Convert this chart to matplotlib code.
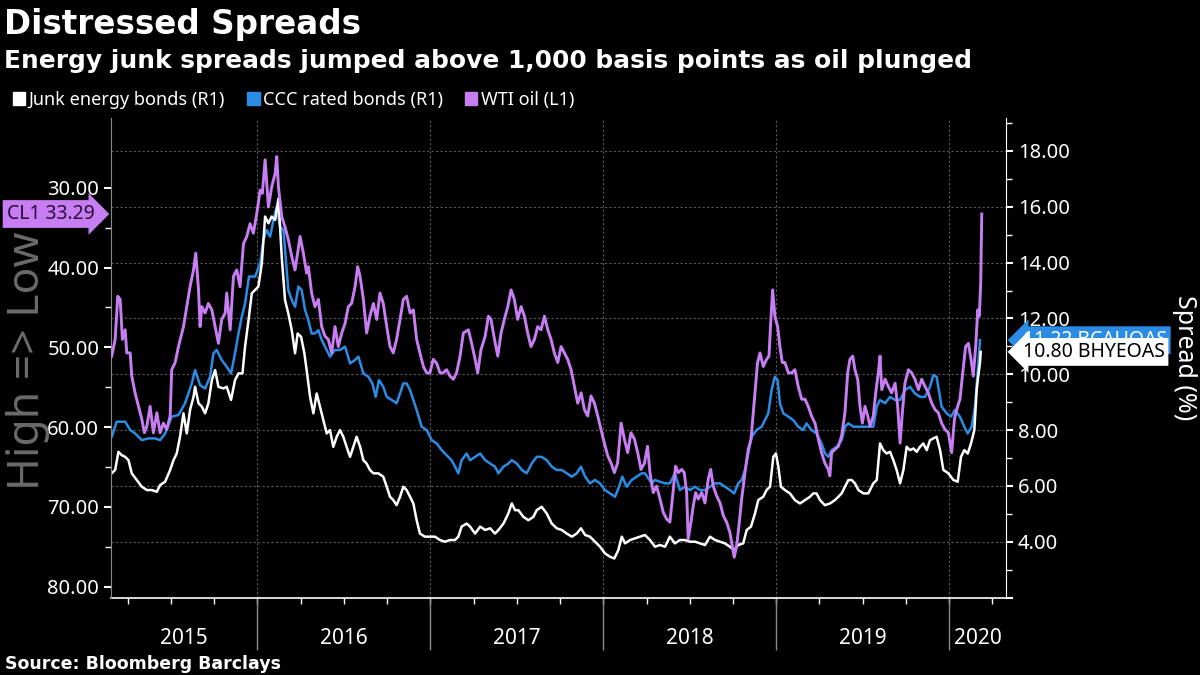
import numpy as np
from matplotlib import pyplot as plt
from matplotlib.patches import Patch

plt.rcParams['font.family'] = ['Noto Sans', 'DejaVu Sans']

WHITE = "#ffffff"
BLUE = "#2b8ce6"
PURPLE = "#c77ef2"
GRID = "#5a5a5a"

# WTI oil, $ per barrel (left axis, inverted); time in decimal years
wti_t = [
    2015.158, 2015.178, 2015.193, 2015.207, 2015.220, 2015.236, 2015.245, 2015.265, 2015.274, 2015.293,
    2015.313, 2015.332, 2015.347, 2015.361, 2015.380, 2015.399, 2015.419, 2015.438, 2015.457, 2015.476,
    2015.496, 2015.505, 2015.525, 2015.544, 2015.573, 2015.592, 2015.611, 2015.631, 2015.644, 2015.660,
    2015.669, 2015.679, 2015.698, 2015.717, 2015.737, 2015.756, 2015.775, 2015.794, 2015.814, 2015.823,
    2015.843, 2015.862, 2015.881, 2015.900, 2015.920, 2015.939, 2015.958, 2015.977, 2015.997, 2016.016,
    2016.029, 2016.045, 2016.064, 2016.083, 2016.103, 2016.112, 2016.122, 2016.141,
    2016.160, 2016.179, 2016.199, 2016.218, 2016.233, 2016.247, 2016.266, 2016.285, 2016.295, 2016.314,
    2016.333, 2016.353, 2016.372, 2016.391, 2016.410, 2016.430, 2016.449, 2016.468, 2016.488, 2016.507,
    2016.526, 2016.545, 2016.565, 2016.580, 2016.594, 2016.613, 2016.632, 2016.651, 2016.671, 2016.690,
    2016.709, 2016.728, 2016.748, 2016.767, 2016.786, 2016.805, 2016.825, 2016.844, 2016.863, 2016.883,
    2016.902, 2016.921, 2016.940, 2016.960, 2016.979, 2016.998, 2017.017, 2017.037, 2017.056, 2017.075,
    2017.094, 2017.114, 2017.133, 2017.152, 2017.172, 2017.191,
    2017.220, 2017.239, 2017.259, 2017.274, 2017.293, 2017.317, 2017.336, 2017.351, 2017.371, 2017.390,
    2017.409, 2017.428, 2017.448, 2017.467, 2017.486, 2017.505, 2017.525, 2017.544, 2017.563, 2017.582,
    2017.602, 2017.621, 2017.640, 2017.660, 2017.679, 2017.698, 2017.717, 2017.737, 2017.756, 2017.775,
    2017.794, 2017.814, 2017.833, 2017.852, 2017.872, 2017.891, 2017.910, 2017.929, 2017.949, 2017.968,
    2017.987, 2018.006, 2018.026, 2018.045, 2018.064, 2018.083, 2018.103, 2018.122, 2018.141, 2018.160,
    2018.180, 2018.199, 2018.218, 2018.238,
    2018.256, 2018.270, 2018.289, 2018.308, 2018.328, 2018.347, 2018.366, 2018.385, 2018.405, 2018.418,
    2018.434, 2018.453, 2018.468, 2018.482, 2018.491, 2018.507, 2018.520, 2018.534, 2018.549, 2018.569,
    2018.588, 2018.607, 2018.621, 2018.636, 2018.655, 2018.675, 2018.694, 2018.713, 2018.732, 2018.746,
    2018.757, 2018.771, 2018.784, 2018.800, 2018.819, 2018.838, 2018.854, 2018.867, 2018.877, 2018.892,
    2018.906, 2018.925, 2018.944, 2018.958, 2018.969, 2018.979, 2018.992, 2019.008, 2019.021, 2019.035,
    2019.050, 2019.070, 2019.089, 2019.108, 2019.127, 2019.147, 2019.166, 2019.185, 2019.204, 2019.224,
    2019.243, 2019.262, 2019.281,
    2019.301, 2019.310, 2019.320, 2019.339, 2019.359, 2019.378, 2019.397, 2019.413, 2019.426, 2019.442,
    2019.455, 2019.471, 2019.484, 2019.498, 2019.513, 2019.529, 2019.542, 2019.561, 2019.575, 2019.590,
    2019.600, 2019.610, 2019.629, 2019.648, 2019.667, 2019.687, 2019.702, 2019.716, 2019.729, 2019.744,
    2019.764, 2019.783, 2019.802, 2019.822, 2019.841, 2019.860, 2019.879, 2019.899, 2019.918, 2019.937,
    2019.956, 2019.976, 2019.995, 2020.014, 2020.030, 2020.043, 2020.062, 2020.082, 2020.095, 2020.111,
    2020.126, 2020.139, 2020.153, 2020.165, 2020.174, 2020.182, 2020.188,
]
wti = [
    51.1, 49.0, 43.6, 44.0, 49.0, 47.8, 50.7, 50.7, 53.6, 55.7,
    57.4, 59.0, 60.7, 59.9, 57.4, 60.7, 58.2, 60.7, 59.5, 60.3,
    58.6, 52.8, 51.9, 49.9, 47.4, 44.9, 42.4, 40.3, 38.2, 42.8,
    47.4, 44.9, 45.7, 44.5, 45.3, 47.4, 49.5, 46.5, 45.7, 43.2,
    47.8, 41.1, 40.3, 42.4, 37.0, 36.1, 34.5, 35.7, 33.2, 30.3,
    30.7, 26.5, 32.4, 29.9, 28.2, 26.1, 29.9, 33.6,
    34.9, 36.5, 38.6, 40.3, 38.2, 36.1, 38.2, 40.7, 39.9, 43.2,
    44.9, 44.0, 47.4, 48.6, 49.0, 50.7, 47.4, 49.9, 48.2, 47.0,
    44.9, 44.5, 42.4, 39.9, 41.1, 44.0, 48.2, 46.1, 44.5, 46.5,
    43.2, 44.5, 47.4, 49.9, 50.7, 49.0, 46.5, 44.0, 43.6, 45.7,
    45.3, 49.0, 50.7, 52.4, 53.2, 53.2, 51.5, 52.0, 53.2, 53.2,
    52.8, 53.6, 54.0, 53.2, 51.1, 48.2,
    47.8, 49.5, 51.5, 53.2, 50.3, 48.6, 46.1, 46.5, 49.0, 51.1,
    48.2, 46.5, 44.9, 42.8, 44.0, 46.5, 44.9, 46.1, 48.2, 49.9,
    49.0, 47.4, 47.8, 46.1, 47.8, 49.0, 50.7, 51.9, 49.9, 50.7,
    51.5, 52.8, 54.9, 57.0, 55.7, 57.8, 58.6, 56.1, 57.0, 58.6,
    60.3, 62.0, 63.6, 64.5, 65.7, 64.5, 59.5, 61.5, 63.2, 60.7,
    61.5, 63.2, 65.3, 64.5,
    62.4, 65.7, 68.2, 67.4, 69.0, 70.7, 71.5, 71.9, 67.8, 64.9,
    65.7, 65.3, 65.7, 68.2, 74.0, 71.9, 69.9, 68.2, 69.0, 68.2,
    69.5, 66.5, 65.3, 67.4, 68.6, 69.5, 71.1, 71.9, 73.2, 74.9,
    76.3, 74.9, 72.4, 69.0, 65.7, 62.8, 61.5, 58.2, 55.7, 51.9,
    50.7, 52.4, 51.5, 51.1, 46.5, 42.8, 46.1, 47.4, 49.9, 51.9,
    51.9, 53.2, 53.2, 52.8, 54.9, 56.5, 56.5, 57.4, 58.6, 59.5,
    61.5, 63.2, 64.5,
    65.3, 66.1, 63.2, 62.8, 62.4, 61.1, 58.2, 53.2, 51.5, 51.1,
    52.8, 54.0, 57.4, 59.5, 57.4, 58.6, 59.9, 58.6, 55.7, 53.2,
    51.1, 55.3, 54.0, 54.9, 55.7, 54.5, 57.4, 62.0, 58.2, 54.5,
    52.8, 53.2, 54.0, 55.3, 54.0, 54.9, 55.7, 57.0, 57.8, 58.2,
    59.5, 60.3, 60.7, 63.2, 59.0, 57.8, 56.5, 52.4, 49.9, 49.5,
    51.5, 53.6, 49.9, 45.3, 46.1, 41.9, 33.29,
]

# CCC rated bonds, option-adjusted spread in % (right axis)
ccc_t = [
    2015.158, 2015.187, 2015.236, 2015.265, 2015.293, 2015.332, 2015.370, 2015.409, 2015.438, 2015.467,
    2015.505, 2015.544, 2015.582, 2015.621, 2015.640, 2015.669, 2015.698, 2015.727, 2015.746, 2015.765,
    2015.794, 2015.823, 2015.848, 2015.871, 2015.891, 2015.910, 2015.929, 2015.952, 2015.987, 2016.016,
    2016.035, 2016.054, 2016.074, 2016.093, 2016.112, 2016.131, 2016.151,
    2016.179, 2016.199, 2016.218, 2016.237, 2016.256, 2016.276, 2016.295, 2016.314, 2016.333, 2016.353,
    2016.372, 2016.391, 2016.420, 2016.449, 2016.478, 2016.507, 2016.536, 2016.565, 2016.584, 2016.613,
    2016.642, 2016.665, 2016.684, 2016.703, 2016.728, 2016.748, 2016.777, 2016.805, 2016.825, 2016.844,
    2016.863, 2016.883, 2016.902, 2016.921, 2016.950, 2016.979, 2017.008, 2017.037, 2017.066, 2017.094,
    2017.123, 2017.143, 2017.162, 2017.181, 2017.210,
    2017.230, 2017.259, 2017.288, 2017.317, 2017.346, 2017.374, 2017.394, 2017.423, 2017.451, 2017.471,
    2017.500, 2017.529, 2017.557, 2017.586, 2017.615, 2017.644, 2017.673, 2017.702, 2017.731, 2017.760,
    2017.789, 2017.818, 2017.846, 2017.871, 2017.895, 2017.923, 2017.952, 2017.981, 2018.010, 2018.039,
    2018.068, 2018.091, 2018.110, 2018.135, 2018.164, 2018.193, 2018.222,
    2018.241, 2018.280, 2018.299, 2018.328, 2018.357, 2018.385, 2018.414, 2018.443, 2018.472, 2018.501,
    2018.530, 2018.559, 2018.588, 2018.617, 2018.646, 2018.675, 2018.703, 2018.732, 2018.757, 2018.780,
    2018.800, 2018.819, 2018.838, 2018.858, 2018.886, 2018.915, 2018.935, 2018.954, 2018.973, 2018.992,
    2019.008, 2019.021, 2019.041, 2019.070, 2019.098, 2019.127, 2019.156, 2019.175, 2019.204, 2019.233,
    2019.262,
    2019.282, 2019.301, 2019.320, 2019.349, 2019.378, 2019.397, 2019.417, 2019.446, 2019.475, 2019.504,
    2019.532, 2019.561, 2019.581, 2019.600, 2019.629, 2019.658, 2019.687, 2019.716, 2019.744, 2019.773,
    2019.802, 2019.831, 2019.860, 2019.889, 2019.908, 2019.927, 2019.956, 2019.985, 2020.010, 2020.033,
    2020.062, 2020.087, 2020.106, 2020.130, 2020.149, 2020.165, 2020.178,
]
ccc = [
    7.76, 8.30, 8.30, 8.00, 7.88, 7.64, 7.70, 7.70, 7.64, 7.88,
    8.48, 8.54, 8.96, 9.67, 10.15, 9.61, 9.49, 9.91, 10.75, 10.87,
    10.51, 10.27, 10.03, 10.75, 11.46, 12.06, 12.54, 13.50, 13.50, 13.97,
    14.81, 15.17, 14.93, 15.53, 16.00, 15.29, 15.17,
    13.02, 12.66, 12.42, 13.14, 13.02, 12.30, 11.94, 11.46, 11.46, 11.58,
    11.23, 10.99, 10.63, 10.87, 10.87, 10.99, 10.39, 10.51, 10.63, 10.03,
    9.91, 9.67, 9.19, 9.79, 9.55, 9.19, 9.08, 8.96, 9.31, 9.67,
    9.67, 9.43, 9.08, 8.72, 8.12, 8.00, 7.64, 7.52, 7.28, 7.10,
    6.92, 6.69, 6.45, 6.92, 7.16,
    6.92, 7.04, 7.16, 6.92, 6.80, 6.69, 6.45, 6.69, 6.80, 6.92,
    6.80, 6.57, 6.45, 6.80, 7.04, 7.04, 6.92, 6.69, 6.57, 6.57,
    6.45, 6.33, 6.45, 6.69, 6.33, 6.09, 6.21, 6.09, 5.85, 5.73,
    5.61, 5.97, 6.33, 5.97, 6.21, 6.33, 6.45,
    6.45, 6.09, 6.21, 6.15, 6.09, 6.09, 6.45, 5.85, 5.97, 5.85,
    5.97, 5.85, 5.85, 5.97, 6.09, 6.09, 5.97, 5.85, 5.73, 6.09,
    6.21, 6.57, 7.16, 7.76, 8.00, 8.12, 8.36, 8.60, 9.43, 9.91,
    9.79, 8.96, 8.60, 8.48, 8.36, 8.12, 8.00, 8.24, 8.00, 7.88,
    7.52,
    7.16, 7.04, 7.28, 7.40, 7.64, 8.12, 8.24, 8.12, 8.12, 8.12,
    8.12, 8.12, 8.84, 9.08, 8.96, 9.19, 9.08, 9.08, 9.43, 9.55,
    9.31, 9.19, 9.19, 9.55, 9.97, 9.91, 8.84, 8.60, 8.48, 8.72,
    8.48, 8.12, 7.88, 8.12, 8.84, 10.15, 11.22,
]

# Junk energy bonds, option-adjusted spread in % (right axis)
junk_t = [
    2015.158, 2015.178, 2015.197, 2015.216, 2015.236, 2015.255, 2015.274, 2015.303, 2015.332, 2015.361,
    2015.390, 2015.419, 2015.438, 2015.467, 2015.496, 2015.515, 2015.534, 2015.553, 2015.573, 2015.592,
    2015.611, 2015.631, 2015.640, 2015.660, 2015.679, 2015.698, 2015.717, 2015.737, 2015.756, 2015.775,
    2015.804, 2015.823, 2015.848, 2015.871, 2015.891, 2015.914, 2015.929, 2015.949, 2015.968, 2015.987,
    2016.006, 2016.026, 2016.045, 2016.064, 2016.083, 2016.103, 2016.122, 2016.141, 2016.160,
    2016.179, 2016.199, 2016.218, 2016.233, 2016.253, 2016.272, 2016.285, 2016.305, 2016.324, 2016.343,
    2016.362, 2016.382, 2016.401, 2016.420, 2016.439, 2016.459, 2016.478, 2016.497, 2016.516, 2016.536,
    2016.555, 2016.574, 2016.594, 2016.613, 2016.632, 2016.651, 2016.671, 2016.699, 2016.728, 2016.748,
    2016.767, 2016.786, 2016.805, 2016.825, 2016.844, 2016.863, 2016.883, 2016.902, 2016.921, 2016.940,
    2016.969, 2016.998, 2017.027, 2017.056, 2017.085, 2017.114, 2017.143, 2017.162, 2017.181, 2017.210,
    2017.230, 2017.259, 2017.288, 2017.317, 2017.346, 2017.374, 2017.394, 2017.423, 2017.451, 2017.471,
    2017.490, 2017.509, 2017.538, 2017.567, 2017.596, 2017.615, 2017.644, 2017.673, 2017.702, 2017.731,
    2017.760, 2017.789, 2017.818, 2017.846, 2017.871, 2017.895, 2017.923, 2017.952, 2017.981, 2018.010,
    2018.039, 2018.064, 2018.087, 2018.107, 2018.126, 2018.155, 2018.184, 2018.213, 2018.241,
    2018.270, 2018.299, 2018.328, 2018.357, 2018.385, 2018.414, 2018.443, 2018.472, 2018.501, 2018.530,
    2018.559, 2018.588, 2018.617, 2018.646, 2018.675, 2018.703, 2018.732, 2018.757, 2018.780, 2018.809,
    2018.829, 2018.854, 2018.877, 2018.896, 2018.925, 2018.944, 2018.964, 2018.983, 2018.998, 2019.012,
    2019.027, 2019.050, 2019.079, 2019.108, 2019.137, 2019.166, 2019.195, 2019.214, 2019.233, 2019.253,
    2019.281,
    2019.311, 2019.339, 2019.359, 2019.378, 2019.397, 2019.417, 2019.436, 2019.455, 2019.475, 2019.504,
    2019.532, 2019.561, 2019.581, 2019.600, 2019.619, 2019.638, 2019.658, 2019.677, 2019.696, 2019.716,
    2019.735, 2019.754, 2019.773, 2019.793, 2019.812, 2019.831, 2019.850, 2019.870, 2019.889, 2019.908,
    2019.927, 2019.947, 2019.966, 2019.995, 2020.024, 2020.049, 2020.068, 2020.087, 2020.107, 2020.126,
    2020.145, 2020.159, 2020.168, 2020.178, 2020.182,
]
junk = [
    6.45, 6.57, 7.22, 7.10, 7.04, 6.92, 6.45, 6.21, 5.97, 5.85,
    5.85, 5.79, 6.03, 6.15, 6.57, 6.92, 7.16, 7.76, 8.60, 7.88,
    8.72, 9.19, 9.55, 8.96, 8.84, 8.60, 8.96, 9.79, 10.15, 9.55,
    9.49, 9.55, 9.08, 9.79, 10.03, 10.03, 10.99, 11.94, 12.90, 13.02,
    13.14, 13.97, 15.65, 15.41, 15.65, 15.53, 16.30, 14.21, 12.66,
    12.18, 11.58, 10.75, 11.46, 11.34, 10.75, 10.15, 9.19, 8.60, 9.31,
    8.84, 8.36, 7.88, 8.00, 7.40, 7.76, 8.00, 7.76, 7.40, 7.04,
    7.40, 7.76, 7.40, 6.92, 6.80, 6.57, 6.45, 6.45, 6.33, 5.97,
    5.61, 5.49, 5.31, 5.61, 5.97, 5.85, 5.61, 5.37, 4.77, 4.29,
    4.18, 4.18, 4.18, 4.06, 4.00, 4.06, 4.06, 4.18, 4.54, 4.65,
    4.54, 4.29, 4.54, 4.42, 4.48, 4.29, 4.42, 4.65, 5.01, 5.37,
    5.13, 5.13, 4.89, 4.77, 4.89, 5.13, 5.25, 5.01, 4.65, 4.48,
    4.42, 4.29, 4.18, 4.29, 4.48, 4.24, 4.18, 4.00, 3.82, 3.58,
    3.46, 3.40, 3.70, 4.18, 3.94, 4.06, 4.12, 4.18, 4.24,
    4.06, 3.82, 3.88, 3.82, 4.18, 3.94, 4.06, 4.06, 4.00, 4.00,
    3.94, 3.88, 4.18, 4.06, 4.00, 3.94, 3.82, 3.70, 3.88, 3.94,
    4.42, 4.54, 5.01, 5.49, 5.61, 5.85, 5.97, 7.04, 7.16, 6.69,
    5.97, 5.85, 5.73, 5.49, 5.37, 5.49, 5.61, 5.73, 5.73, 5.49,
    5.31,
    5.37, 5.49, 5.61, 5.73, 5.97, 6.21, 6.21, 6.09, 5.85, 5.73,
    5.73, 6.09, 6.21, 7.52, 7.28, 7.16, 7.22, 6.92, 6.57, 6.09,
    6.57, 7.40, 7.28, 7.34, 7.22, 7.40, 7.52, 7.28, 7.64, 7.70,
    7.76, 7.28, 6.57, 6.45, 6.21, 6.15, 7.04, 7.28, 7.16, 7.52,
    8.00, 9.46, 9.94, 10.42, 10.80,
]

years = [2015, 2016, 2017, 2018, 2019, 2020]
x_start, x_end = 2015.154, 2020.328
BOLD = ['DejaVu Sans']

fig = plt.figure(figsize=(12, 6.75), dpi=100, facecolor="black")
ax = fig.add_axes([0.0925, 0.1148, 0.7458, 0.7099], facecolor="black")
ax_oil = ax.twinx()

# spreads on the right axis
ax.plot(junk_t, junk, color=WHITE, lw=1.8, zorder=3)
ax.plot(ccc_t, ccc, color=BLUE, lw=1.8, zorder=2)
ax.set_ylim(2.0, 19.17)
ax.set_xlim(x_start, x_end)
ax.yaxis.tick_right()
ax.set_yticks(np.arange(2, 19, 2))
ax.set_yticklabels([""] + [f"{v:.2f}" for v in np.arange(4, 19, 2)])
ax.set_yticks(np.arange(3, 20, 2), minor=True)
ax.grid(axis="y", which="major", color=GRID, ls=(0, (2, 2)), lw=0.8)
ax.yaxis.set_label_position("right")
ax.set_ylabel("Spread (%)", color="white", fontsize=18, rotation=270, va="center")
ax.yaxis.set_label_coords(1.2, 0.5)

# oil on the left axis, high => low
ax_oil.plot(wti_t, wti, color=PURPLE, lw=2.1, zorder=4)
ax_oil.set_ylim(81.35, 21.3)
ax_oil.yaxis.tick_left()
ax_oil.yaxis.set_label_position("left")
ax_oil.set_yticks(np.arange(30, 81, 10))
ax_oil.set_yticklabels([f"{v:.2f}" for v in np.arange(30, 81, 10)])
ax_oil.set_yticks(np.arange(35, 80, 10), minor=True)
ax_oil.set_ylabel("High => Low", color="#6b6b6b", fontsize=32, va="center")
ax_oil.yaxis.set_label_coords(-0.093, 0.495)

for a in (ax, ax_oil):
    a.tick_params(axis="y", which="major", colors="white", labelsize=14.5, length=5, width=1.5)
    a.tick_params(axis="y", which="minor", colors="white", length=4, width=1)
    for s in a.spines.values():
        s.set_visible(False)

ax.spines["right"].set_visible(True)
ax.spines["right"].set_color("white")
ax.spines["bottom"].set_visible(True)
ax.spines["bottom"].set_color("white")
ax.spines["bottom"].set_linewidth(1.2)
ax_oil.spines["left"].set_visible(True)
ax_oil.spines["left"].set_color("#8a8a8a")

# x axis: quarter ticks, year separators, centred year labels
ax.set_xticks([])
ax.set_xticks(np.arange(2015.25, x_end, 0.25), minor=True)
ax.tick_params(axis="x", which="minor", colors="white", length=4, width=1)
for y in years[1:]:
    ax.axvline(y, color=GRID, ls=(0, (2, 2)), lw=0.8, zorder=1)
ax.vlines(years[1:], -0.11, 0, transform=ax.get_xaxis_transform(), color="#8a8a8a",
          lw=1, clip_on=False)
for y in years:
    lo, hi = max(y, x_start), min(y + 1, x_end)
    ax.text((lo + hi) / 2, -0.085, str(y), transform=ax.get_xaxis_transform(),
            ha="center", va="center", color="white", fontsize=15)

# last-value tags (the reference draws the white tag over the blue one)
ax_oil.annotate(f"CL1 {wti[-1]:.2f}", xy=(0, wti[-1]), xycoords=("axes fraction", "data"),
                xytext=(-12, 0), textcoords="offset points", ha="right", va="center",
                fontsize=14, color="#2a0a3a", annotation_clip=False,
                bbox=dict(boxstyle="rarrow,pad=0.2", fc=PURPLE, ec="none"))
ax.annotate(f"{ccc[-1]:.2f} BCAUOAS", xy=(1, ccc[-1]), xycoords=("axes fraction", "data"),
            xytext=(12, 0), textcoords="offset points", ha="left", va="center",
            fontsize=14, color="white", annotation_clip=False,
            bbox=dict(boxstyle="larrow,pad=0.2", fc=BLUE, ec="none"))
ax.annotate(f"{junk[-1]:.2f} BHYEOAS", xy=(1, junk[-1]), xycoords=("axes fraction", "data"),
            xytext=(12, 0), textcoords="offset points", ha="left", va="center",
            fontsize=14, color="black", annotation_clip=False,
            bbox=dict(boxstyle="larrow,pad=0.2", fc="white", ec="none"))

# titles, legend, source
fig.text(0.003, 1 - 34 / 675, "Distressed Spreads", color="white", fontsize=23.5,
         fontweight="bold", family=BOLD, va="baseline")
fig.text(0.003, 1 - 68 / 675, "Energy junk spreads jumped above 1,000 basis points as oil plunged",
         color="white", fontsize=17.9, fontweight="bold", family=BOLD, va="baseline")
handles = [Patch(color=WHITE), Patch(color=BLUE), Patch(color=PURPLE)]
labels = ["Junk energy bonds (R1)", "CCC rated bonds (R1)", "WTI oil (L1)"]
fig.legend(handles, labels, loc="center left", bbox_to_anchor=(0.0, 1 - 100 / 675), ncol=3,
           frameon=False, fontsize=13, labelcolor="white", handlelength=0.7, handleheight=0.7,
           handletextpad=0.2, columnspacing=1.2, borderpad=0.2)
fig.text(0.004, 1 - 669 / 675, "Source: Bloomberg Barclays", color="white", fontsize=12.5,
         fontweight="bold", family=BOLD, va="baseline")

fig.savefig("out.png", dpi=100, facecolor="black")
